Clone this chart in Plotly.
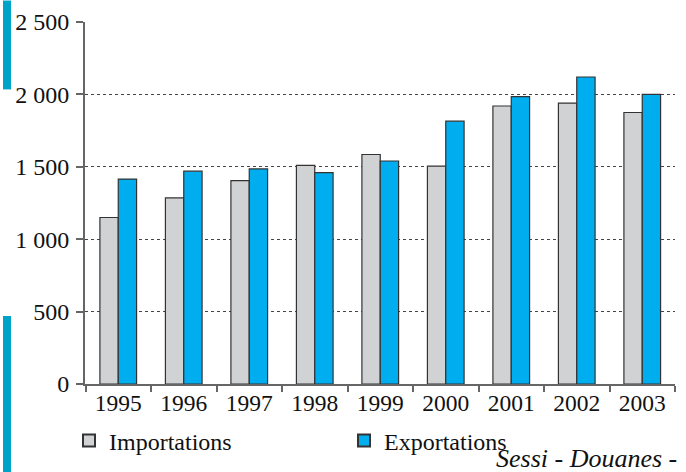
import plotly.graph_objects as go

years = ["1995", "1996", "1997", "1998", "1999", "2000", "2001", "2002", "2003"]
importations = [1150, 1285, 1405, 1510, 1585, 1505, 1920, 1940, 1875]
exportations = [1415, 1470, 1485, 1460, 1540, 1815, 1985, 2120, 2000]
y_tickvals = [0, 500, 1000, 1500, 2000, 2500]
y_ticktext = ["0", "500", "1 000", "1 500", "2 000", "2 500"]
grid_vals = [500, 1000, 1500, 2000]

FONT = "Liberation Serif"

fig = go.Figure()
fig.add_trace(go.Bar(x=years, y=importations, name="Importations",
                     marker=dict(color="#d1d2d4", line=dict(color="#333333", width=1.2))))
fig.add_trace(go.Bar(x=years, y=exportations, name="Exportations",
                     marker=dict(color="#00aeef", line=dict(color="#333333", width=1.2))))

W, H = 686, 472
L, R, T, B = 85, 11, 21.5, 88
pw, ph = W - L - R, H - T - B

def px(x):
    return (x - L) / pw

def py(y):
    return (H - B - y) / ph

fig.update_layout(
    width=W, height=H,
    margin=dict(l=L, r=R, t=T, b=B, autoexpand=False),
    paper_bgcolor="white", plot_bgcolor="white",
    barmode="group", bargap=0.44, bargroupgap=0,
    font=dict(family=FONT, size=24, color="#111111"),
    showlegend=True,
    legend=dict(orientation="h", x=px(69), xanchor="left", y=py(441), yanchor="middle",
                font=dict(family=FONT, size=24, color="#111111"),
                entrywidth=230, entrywidthmode="pixels", itemsizing="constant",
                bgcolor="rgba(0,0,0,0)", traceorder="normal"),
    xaxis=dict(type="category", showline=True, linecolor="#666666", linewidth=1.8,
               ticks="outside", tickson="boundaries", ticklen=6, tickwidth=1.5, tickcolor="#666666",
               ticklabelstandoff=-3,
               tickfont=dict(family=FONT, size=23.5, color="#111111"), showgrid=False,
               automargin=False),
    yaxis=dict(range=[0, 2500], tickvals=y_tickvals, ticktext=y_ticktext,
               showline=True, linecolor="#666666", linewidth=1.8,
               ticks="outside", ticklen=7, tickwidth=1.5, tickcolor="#666666",
               ticklabelstandoff=2, automargin=False,
               tickfont=dict(family=FONT, size=24, color="#111111"),
               showgrid=False, zeroline=False),
    yaxis2=dict(range=[0, 2500], overlaying="y", tickvals=grid_vals, showticklabels=False,
                showgrid=True, gridcolor="#444444", griddash="dot", gridwidth=1,
                showline=False, ticks="", zeroline=False, automargin=False),
)

# invisible trace so the overlay grid axis is drawn
fig.add_trace(go.Scatter(x=[years[0]], y=[0], yaxis="y2", mode="markers",
                         marker=dict(opacity=0), showlegend=False, hoverinfo="skip"))

# decorative teal bars on the left edge
fig.add_shape(type="rect", xref="paper", yref="paper", x0=px(3), x1=px(11), y0=py(0), y1=py(89),
              fillcolor="#00a3c8", line=dict(width=0), layer="above")
fig.add_shape(type="rect", xref="paper", yref="paper", x0=px(3), x1=px(11), y0=py(316), y1=py(472),
              fillcolor="#00a3c8", line=dict(width=0), layer="above")

fig.add_annotation(text="<i>Sessi - Douanes -</i>", xref="paper", yref="paper",
                   x=px(679), xanchor="right", y=py(475), yanchor="bottom",
                   showarrow=False, font=dict(family=FONT, size=26, color="#111111"))

fig.write_html("out.html", config={"displayModeBar": False},
               post_script="document.body.style.margin='0';document.body.style.overflow='hidden';")
